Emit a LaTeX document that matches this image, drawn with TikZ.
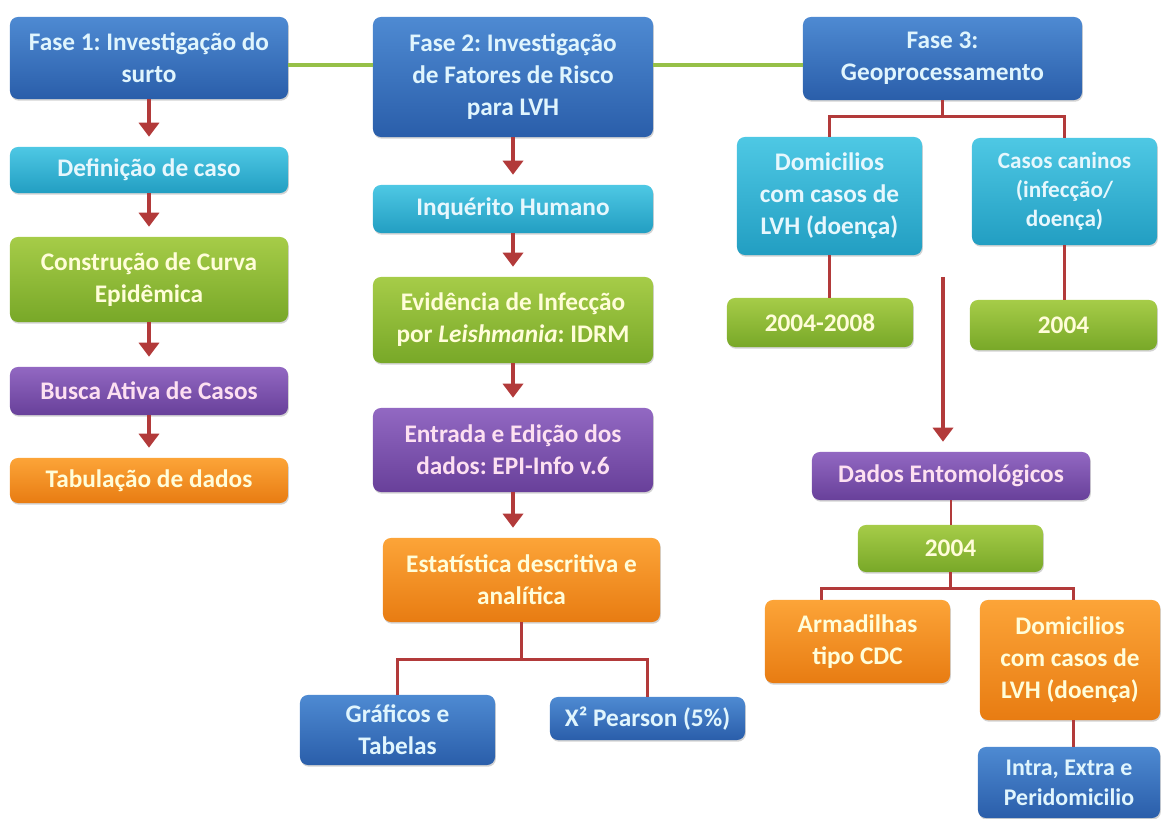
\documentclass[tikz,border=0pt]{standalone}
\usepackage{fontspec}
\setmainfont{Carlito}
\usepackage{tikz}
\usetikzlibrary{arrows.meta}
\usetikzlibrary{positioning}
\usetikzlibrary{shadows}
\frenchspacing

\definecolor{blueTop}{RGB}{78,138,210}
\definecolor{blueBot}{RGB}{42,94,170}
\definecolor{cyanTop}{RGB}{78,200,228}
\definecolor{cyanBot}{RGB}{34,158,194}
\definecolor{greenTop}{RGB}{166,204,72}
\definecolor{greenBot}{RGB}{120,168,40}
\definecolor{purpleTop}{RGB}{146,104,194}
\definecolor{purpleBot}{RGB}{104,64,154}
\definecolor{orangeTop}{RGB}{252,164,56}
\definecolor{orangeBot}{RGB}{232,124,18}
\definecolor{arrowred}{RGB}{178,58,58}
\definecolor{linkgreen}{RGB}{150,192,72}

\tikzstyle{block} = [rectangle, rounded corners=0.2cm, align=center,
    inner sep=2pt, font=\fontsize{18pt}{22.8pt}\selectfont\bfseries,
    drop shadow={shadow xshift=0.6pt, shadow yshift=-1.2pt, opacity=0.35}]
\tikzstyle{blue box} = [block, top color=blueTop, bottom color=blueBot, text=white!88!cyan]
\tikzstyle{cyan box} = [block, top color=cyanTop, bottom color=cyanBot, text=white!90!cyan]
\tikzstyle{green box} = [block, top color=greenTop, bottom color=greenBot, text=white!85!yellow]
\tikzstyle{purple box} = [block, top color=purpleTop, bottom color=purpleBot, text=white!88!magenta]
\tikzstyle{orange box} = [block, top color=orangeTop, bottom color=orangeBot, text=white!85!yellow]
\tikzstyle{line} = [draw=arrowred, line width=2.8pt, shorten >=0.25cm,
    -{Triangle[width=0.5cm,length=0.35cm]}]
\tikzstyle{edge} = [draw=arrowred, line width=2pt]
\tikzstyle{link} = [draw=linkgreen, line width=2.5pt]

\begin{document}
\begin{tikzpicture}[x=0.025cm, y=-0.025cm]
  \useasboundingbox (0,0) rectangle (1163,819);
  % Fase 1
  \node [blue box, minimum width=6.95cm, minimum height=2.05cm] (fase1) at (149,58)
    {Fase 1: Investigação do\\surto};
  \node [cyan box, minimum width=6.95cm, minimum height=1.15cm] (caso) at (149,170)
    {Definição de caso};
  \node [green box, minimum width=6.95cm, minimum height=2.125cm] (curva) at (149,279.5)
    {Construção de Curva\\Epidêmica};
  \node [purple box, minimum width=6.95cm, minimum height=1.2cm] (busca) at (149,391)
    {Busca Ativa de Casos};
  \node [orange box, minimum width=6.95cm, minimum height=1.125cm] (tabela) at (149,480.5)
    {Tabulação de dados};

  \path [line] (fase1) -- (caso);
  \path [line] (caso) -- (curva);
  \path [line] (curva) -- (busca);
  \path [line] (busca) -- (tabela);

  % Fase 2
  \node [blue box, minimum width=7cm, minimum height=3cm] (fase2) at (513,77)
    {Fase 2: Investigação\\de Fatores de Risco\\para LVH};
  \node [cyan box, minimum width=7cm, minimum height=1.2cm] (inquerito) at (513,209)
    {Inquérito Humano};
  \node [green box, minimum width=7cm, minimum height=2.15cm] (evidencia) at (513,320)
    {Evidência de Infecção\\por \textit{Leishmania}: IDRM};
  \node [purple box, minimum width=7cm, minimum height=2.1cm] (entrada) at (513,450)
    {Entrada e Edição dos\\dados: EPI-Info v.6};
  \node [orange box, minimum width=6.925cm, minimum height=2.1cm] (estat) at (521.5,580)
    {Estatística descritiva e\\analítica};
  \node [blue box, minimum width=4.875cm, minimum height=1.75cm] (graficos) at (397.5,730)
    {Gráficos e\\Tabelas};
  \node [blue box, minimum width=4.875cm, minimum height=1.075cm] (pearson) at (647.5,718.5)
    {X² Pearson (5\%)};

  \path [line] (fase2) -- (fase2 |- inquerito.north);
  \path [line] (inquerito) -- (inquerito |- evidencia.north);
  \path [line] (evidencia) -- (evidencia |- entrada.north);
  \path [line] (entrada) -- (entrada |- estat.north);
  \path [edge] (estat.south) -- ++(0,37) -| (graficos.north);
  \path [edge] (estat.south) -- ++(0,37) -| (pearson.north);

  % Fase 3
  \node [blue box, minimum width=6.975cm, minimum height=2.075cm] (fase3) at (942.5,58.5)
    {Fase 3:\\Geoprocessamento};
  \node [cyan box, minimum width=4.625cm, minimum height=2.95cm] (domic) at (829.5,196)
    {Domicilios\\com casos de\\LVH (doença)};
  \node [cyan box, minimum width=4.625cm, minimum height=2.675cm,
    font=\fontsize{16.5pt}{20.5pt}\selectfont\bfseries] (caninos) at (1064.5,191.5)
    {Casos caninos\\(infecção/\\doença)};
  \node [green box, minimum width=4.65cm, minimum height=1.225cm] (periodo) at (820,322.5)
    {2004-2008};
  \node [green box, minimum width=4.675cm, minimum height=1.25cm] (anocao) at (1063.5,325)
    {2004};
  \node [purple box, minimum width=6.95cm, minimum height=1.2cm] (entomo) at (951,476)
    {Dados Entomológicos};
  \node [green box, minimum width=4.625cm, minimum height=1.175cm] (anoento) at (950.5,548.5)
    {2004};
  \node [orange box, minimum width=4.625cm, minimum height=2.075cm] (armad) at (857.5,641.5)
    {Armadilhas\\tipo CDC};
  \node [orange box, minimum width=4.5cm, minimum height=3cm] (domic2) at (1070,660)
    {Domicilios\\com casos de\\LVH (doença)};
  \node [blue box, minimum width=4.55cm, minimum height=1.775cm,
    font=\fontsize{17pt}{21.5pt}\selectfont\bfseries] (intra) at (1069,782.5)
    {Intra, Extra e\\Peridomicilio};
  \coordinate (geo) at (943,277);

  \path [edge] (fase3.south) -- ++(0,16) -| (domic.north);
  \path [edge] (fase3.south) -- ++(0,16) -| (caninos.north);
  \path [edge] (domic.south) -- (domic.south |- periodo.north);
  \path [edge] (caninos.south) -- (caninos.south |- anocao.north);
  \path [line] (geo) -- (geo |- entomo.north);
  \path [edge] (entomo.south) -- (entomo.south |- anoento.north);
  \path [edge] (anoento.south) -- ++(0,16) -| ([xshift=-0.9cm]armad.north);
  \path [edge] (anoento.south) -- ++(0,16) -| ([xshift=0.08cm]domic2.north);
  \path [edge] ([xshift=0.08cm]domic2.south) -- ([xshift=0.08cm]domic2.south |- intra.north);

  % ligacao entre as fases
  \coordinate (lvl) at (0,65);
  \path [link] (fase1.east |- lvl) -- (fase2.west |- lvl);
  \path [link] (fase2.east |- lvl) -- (fase3.west |- lvl);
\end{tikzpicture}
\end{document}
